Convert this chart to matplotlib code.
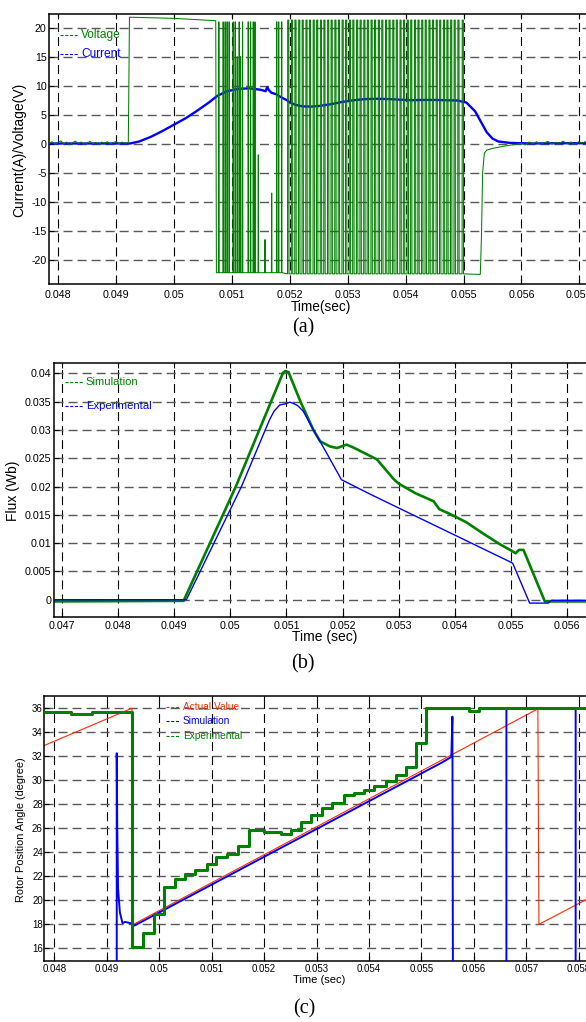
import numpy as np
import matplotlib

matplotlib.use("Agg")
import matplotlib.pyplot as plt
from matplotlib.lines import Line2D

plt.rcParams["font.family"] = ["Liberation Sans", "DejaVu Sans"]
plt.rcParams["axes.unicode_minus"] = False
plt.rcParams["lines.scale_dashes"] = False

W, H = 586, 1022
GREEN, BLUE, RED = "#008000", "#0000ff", "#ff2a00"

# ---------------- (a) voltage / current ----------------
a_xticks = [0.048, 0.049, 0.050, 0.051, 0.052, 0.053, 0.054, 0.055, 0.056, 0.057]
a_yticks = [-20, -15, -10, -5, 0, 5, 10, 15, 20]

volt_base_noise = [0.1, 0.35, -0.1, 0.25, 0.5, 0.0, 0.3, -0.2, 0.2, 0.45, 0.05, 0.3,
                   -0.1, 0.15, 0.4, 0.0, 0.25, -0.15, 0.3, 0.1, 0.35, -0.05, 0.2, 0.4,
                   0.0, 0.3, 0.1, 0.2]
volt_high_t = [0.04921, 0.04923, 0.0500, 0.05072, 0.050732]
volt_high_v = [0.2, 21.8, 21.6, 21.2, -22.2]
irr_pulse_t = [0.050769, 0.050844, 0.050879, 0.050913, 0.050948, 0.051017, 0.051052,
               0.051087, 0.051121, 0.051145, 0.051179, 0.051277, 0.051318, 0.051364,
               0.051393, 0.051451, 0.051566, 0.051682, 0.051769, 0.051803, 0.051855]
irr_pulse_v = [21.0, 21.0, 21.0, 21.0, 21.0, 21.0, 21.0, 15.0, 21.0, 15.0, 21.0, 21.0,
               21.0, 21.0, 21.0, -1.9, -16.5, -8.5, 21.0, 21.0, 21.0]
reg_pulse_t = [0.05196, 0.052025, 0.052085, 0.05215, 0.05221, 0.052275, 0.052335, 0.0524,
               0.05246, 0.052525, 0.052585, 0.05265, 0.05271, 0.052775, 0.052835, 0.0529,
               0.05296, 0.053025, 0.053085, 0.05315, 0.05321, 0.053275, 0.053335, 0.0534,
               0.05346, 0.053525, 0.053585, 0.05365, 0.05371, 0.053775, 0.053835, 0.0539,
               0.05396, 0.054025, 0.054085, 0.05415, 0.05421, 0.054275, 0.054335, 0.0544,
               0.05446, 0.054525, 0.054585, 0.05465, 0.05471, 0.054775, 0.054835, 0.0549,
               0.054975]
reg_high, reg_low = 21.3, -22.4
volt_tail_t = [0.05529, 0.05531, 0.05533, 0.05536, 0.0554, 0.0555, 0.0557, 0.0559]
volt_tail_v = [-22.5, -16.0, -5.0, -1.6, -1.1, -0.8, -0.4, -0.1]
volt_end_noise = [0.1, -0.2, 0.3, 0.0, 0.35, -0.1, 0.2, 0.4, -0.05, 0.25, 0.1, 0.45,
                  0.0, 0.3, -0.1, 0.35, 0.15, 0.4, 0.05, 0.3]

curr_t = [0.047845, 0.04924, 0.0494, 0.0496, 0.0498, 0.0500, 0.0502, 0.0504, 0.0506,
          0.05074, 0.0509, 0.0511, 0.0513, 0.0515, 0.05158, 0.05161, 0.05164, 0.05168,
          0.05176, 0.05185, 0.05195, 0.0520, 0.0521, 0.05222, 0.05235, 0.0525, 0.0527,
          0.0529, 0.0531, 0.0533, 0.0535, 0.0537, 0.0539, 0.0541, 0.0543, 0.0545, 0.0547,
          0.0549, 0.05505, 0.0552, 0.0553, 0.0554, 0.0555, 0.0556, 0.0558, 0.0562, 0.0566,
          0.0572]
curr_v = [0.05, 0.05, 0.4, 1.2, 2.2, 3.3, 4.4, 5.7, 7.1, 8.2, 9.0, 9.45, 9.55, 9.3, 9.05,
          9.75, 9.2, 8.8, 8.55, 8.0, 7.5, 7.1, 6.7, 6.45, 6.4, 6.5, 6.8, 7.2, 7.5, 7.7,
          7.75, 7.7, 7.6, 7.5, 7.55, 7.55, 7.5, 7.45, 7.1, 5.6, 3.8, 2.0, 0.9, 0.4, 0.15,
          0.05, 0.1, 0.1]

# ---------------- (b) flux ----------------
b_xticks = [0.047, 0.048, 0.049, 0.050, 0.051, 0.052, 0.053, 0.054, 0.055, 0.056]
b_yticks = [0, 0.005, 0.010, 0.015, 0.020, 0.025, 0.030, 0.035, 0.040]
sim_t = [0.046858, 0.04917, 0.0501, 0.05094, 0.05098, 0.05104, 0.05107, 0.05125, 0.05148,
         0.0516, 0.05177, 0.0519, 0.05207, 0.05219, 0.05243, 0.05261, 0.05273, 0.05291,
         0.0530, 0.0533, 0.05362, 0.05372, 0.0539, 0.0542, 0.0545, 0.0548, 0.0550, 0.05508,
         0.05514, 0.05522, 0.0556, 0.0565]
sim_v = [-0.0003, -0.0002, 0.0200, 0.0401, 0.0404, 0.0402, 0.0394, 0.0350, 0.0300, 0.0280,
         0.0271, 0.0268, 0.0274, 0.0269, 0.0257, 0.0248, 0.0234, 0.0213, 0.0205, 0.0188,
         0.0174, 0.0160, 0.0152, 0.0137, 0.0117, 0.0098, 0.0087, 0.0082, 0.0088, 0.0088,
         -0.0003, -0.0003]
exp_t = [0.046858, 0.04922, 0.0502, 0.0507, 0.05078, 0.05088, 0.05098, 0.05106, 0.05112,
         0.0512, 0.0513, 0.05148, 0.0517, 0.05198, 0.0525, 0.0530, 0.0535, 0.0540, 0.0545,
         0.0550, 0.05503, 0.05533, 0.05566, 0.05572, 0.0565]
exp_v = [0.0, 0.0, 0.0200, 0.0318, 0.0333, 0.0344, 0.0346, 0.0349, 0.0347, 0.0343, 0.0333,
         0.0300, 0.0262, 0.0212, 0.0186, 0.0162, 0.0138, 0.0114, 0.0090, 0.0066, 0.0064,
         -0.0006, -0.0006, -0.0001, -0.0001]

# ---------------- (c) rotor position ----------------
c_xticks = [0.048, 0.049, 0.050, 0.051, 0.052, 0.053, 0.054, 0.055, 0.056, 0.057, 0.058]
c_yticks = [16, 18, 20, 22, 24, 26, 28, 30, 32, 34, 36]
act_t = [0.047809, 0.04948, 0.04951, 0.05722, 0.05724, 0.05829]
act_v = [32.9, 36.0, 18.0, 35.95, 18.0, 20.4]
simc_t = [0.047809, 0.04919, 0.04919, 0.04920, 0.049215, 0.04925, 0.04930, 0.04935,
          0.04945, 0.04953, 0.0554, 0.05557, 0.05559, 0.05560, 0.05662, 0.05662, 0.05794,
          0.05794, 0.05829]
simc_v = [14.0, 14.0, 32.25, 26.0, 21.0, 19.0, 18.1, 18.2, 18.1, 17.9, 31.5, 31.95, 35.3,
          14.0, 14.0, 36.0, 36.0, 14.0, 14.0]
expc_t = [0.047809, 0.04832, 0.04871, 0.04948, 0.04970, 0.04990, 0.05009, 0.05030, 0.05049,
          0.05069, 0.05091, 0.05109, 0.05129, 0.05150, 0.05171, 0.0520, 0.05232, 0.05251,
          0.05270, 0.05289, 0.05311, 0.05330, 0.05352, 0.05371, 0.05390, 0.05410, 0.05432,
          0.05451, 0.05470, 0.05489, 0.05508, 0.05591, 0.0561, 0.05829]
expc_v = [35.7, 35.5, 35.65, 16.1, 17.25, 18.85, 21.1, 21.8, 22.2, 22.5, 23.0, 23.6, 23.85,
          24.55, 25.82, 25.68, 25.54, 25.82, 26.52, 27.07, 27.69, 28.13, 28.75, 28.94,
          29.17, 29.53, 29.92, 30.42, 31.12, 33.13, 36.0, 35.8, 36.0, 36.0]


def pulse_train(times, peaks, width, low, rise=3e-6):
    t, v = [], []
    for tp, pk in zip(times, peaks):
        t += [tp, tp + rise, tp + width, tp + width + rise]
        v += [low, pk, pk, low]
    return t, v


def px_axes(fig, left, top, bottom, right=594):
    return fig.add_axes([left / W, 1 - bottom / H, (right - left) / W, (bottom - top) / H])


def style(ax, xticks, yticks, xlim, ylim, fs, xpad, ypad):
    ax.set_xlim(xlim)
    ax.set_ylim(ylim)
    ax.set_xticks(xticks)
    ax.set_xticklabels([f"{round(v, 4):g}" for v in xticks])
    ax.set_yticks(yticks)
    ax.set_yticklabels([f"{round(v, 4):g}" for v in yticks])
    ax.tick_params(direction="in", top=True, right=True, length=3.5, width=0.8,
                   labelsize=fs)
    ax.tick_params(axis="x", pad=xpad)
    ax.tick_params(axis="y", pad=ypad)
    ax.xaxis.grid(True, color="k", lw=0.8, ls=(0, (6.5, 3.6)))
    ax.yaxis.grid(True, color="0.35", lw=1.0, ls=(0, (6.5, 3.6)))
    ax.set_axisbelow(True)
    for s in ax.spines.values():
        s.set_linewidth(1.1)


def legend(fig, entries, x0, x1, xt, fs):
    for y, label, color in entries:
        fig.add_artist(Line2D([x0 / W, x1 / W], [1 - y / H, 1 - y / H], color=color,
                              lw=0.8, ls=(0, (2.2, 1.2))))
        fig.text(xt / W, 1 - y / H, label, color=color, fontsize=fs, va="center",
                 ha="left")


def ftext(fig, x, y, s, **kw):
    fig.text(x / W, 1 - y / H, s, ha="center", va="center", **kw)


fig = plt.figure(figsize=(W / 100, H / 100), dpi=100)

# ---- panel (a)
ax = px_axes(fig, 49.3, 14.3, 284.3)
base_t = np.linspace(0.047845, 0.04920, len(volt_base_noise))
end_t = np.linspace(0.0560, 0.05725, len(volt_end_noise))
it, iv = pulse_train(irr_pulse_t, irr_pulse_v, 6e-6, -22.2)
rt, rv = pulse_train(reg_pulse_t, [reg_high] * len(reg_pulse_t), 2.2e-5, reg_low)
volt_t = np.concatenate([base_t, volt_high_t, it, rt, volt_tail_t, end_t])
volt_v = np.concatenate([volt_base_noise, volt_high_v, iv, rv, volt_tail_v, volt_end_noise])
ax.plot(curr_t, curr_v, color=BLUE, lw=1.7, zorder=2)
ax.plot(volt_t, volt_v, color=GREEN, lw=0.75, zorder=3)
style(ax, a_xticks, a_yticks, (0.047845, 0.057254), (-24.2, 22.3), 7.7, 4, 2)
legend(fig, [(35, "Voltage", GREEN), (54.3, "Current", BLUE)], 60, 78, 81, 8.6)
ftext(fig, 321, 307.5, "Time(sec)", fontsize=9.8)
ftext(fig, 19, 150, "Current(A)/Voltage(V)", fontsize=10, rotation=90)
ftext(fig, 303, 328, "(a)", fontsize=14.5, family=["Liberation Serif", "DejaVu Serif"])

# ---- panel (b)
ax = px_axes(fig, 53.7, 362.7, 616.7)
ax.plot(sim_t, sim_v, color=GREEN, lw=1.9, zorder=2)
ax.plot(exp_t, exp_v, color=BLUE, lw=1.0, zorder=3)
style(ax, b_xticks, b_yticks, (0.046858, 0.056475), (-0.0030, 0.041873), 7.7, 3, 1.5)
legend(fig, [(382.3, "Simulation", GREEN), (406.3, "Experimental", BLUE)], 65, 83, 85.7, 8.1)
ftext(fig, 325, 637, "Time (sec)", fontsize=10)
ftext(fig, 13, 491, "Flux (Wb)", fontsize=10, rotation=90)
ftext(fig, 303, 664, "(b)", fontsize=14.5, family=["Liberation Serif", "DejaVu Serif"])

# ---- panel (c)
ax = px_axes(fig, 44.3, 696, 960.7)
ax.plot(act_t, act_v, color=RED, lw=0.8, zorder=2)
ax.plot(simc_t, simc_v, color=BLUE, lw=1.4, zorder=3)
ax.step(expc_t, expc_v, where="post", color=GREEN, lw=2.2, zorder=4)
style(ax, c_xticks, c_yticks, (0.047809, 0.05829), (14.97, 37.02), 7.0, 2.5, 1)
legend(fig, [(707.3, "Actual Value", RED), (721, "Simulation", BLUE),
             (736, "Experimental", GREEN)], 166, 180, 183, 7.3)
ftext(fig, 319.5, 980, "Time (sec)", fontsize=8)
ftext(fig, 21.5, 829.5, "Rotor Position Angle (degree)", fontsize=7.9, rotation=90)
ftext(fig, 304, 1009, "(c)", fontsize=14.5, family=["Liberation Serif", "DejaVu Serif"])

fig.savefig("out.png", dpi=100)
